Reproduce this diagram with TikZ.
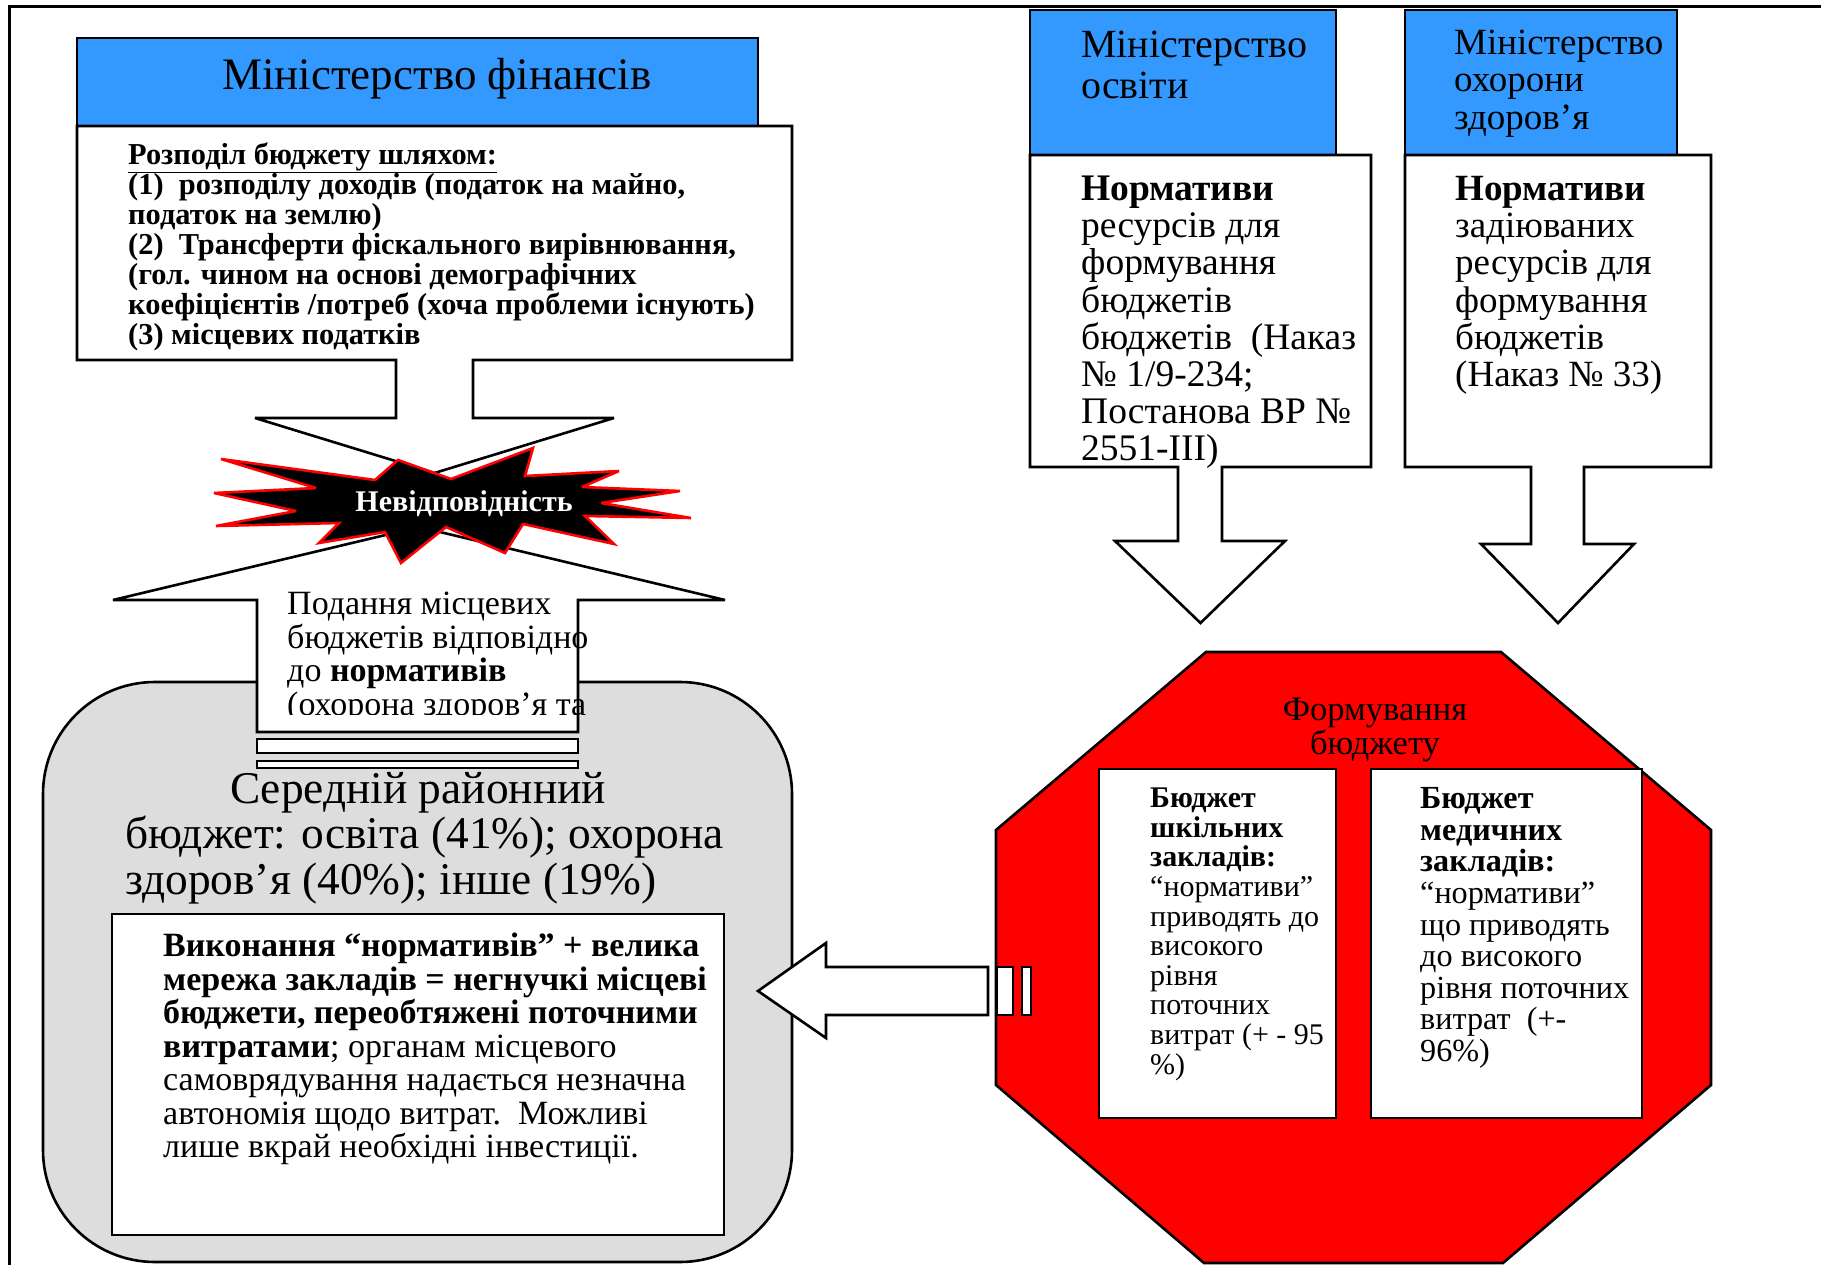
\documentclass[tikz,border=0pt]{standalone}
\usepackage{fontspec}
\setmainfont{Liberation Serif}
\newcommand{\myfs}[2]{\fontsize{#1}{#2}\selectfont}
\definecolor{minblue}{HTML}{3399FF}
\definecolor{budgray}{HTML}{DDDDDD}
\tikzset{
  box/.style={draw=black, line width=2.6pt, line join=miter, miter limit=4},
  bar/.style={draw=black, line width=2pt, fill=white},
  txt/.style={inner sep=0pt, anchor=base west, align=left},
  ctxt/.style={inner sep=0pt, anchor=base, align=center},
}
% note: for multi-line nodes the base anchor is the baseline of the LAST line
\begin{document}
\begin{tikzpicture}[x=1pt,y=-1pt]
\useasboundingbox (0,0) rectangle (1821,1265);
\clip (0,0) rectangle (1821,1265);
\fill[white] (0,0) rectangle (1821,1265);
% frame
\draw[line width=3pt] (1830,7) -- (9,7) -- (9,1275);

% local budget (gray)
\draw[box, fill=budgray, rounded corners=112pt] (43,682) rectangle (792,1262);
\node[ctxt, font=\myfs{45.4}{45.5}] (avgtitle) at (418,803) {Середній районний};
\node[txt, font=\myfs{45.4}{45.5}] (avgbody) at (125,894) {бюджет: освіта (41\%); охорона\\здоров’я (40\%); інше (19\%)};
\draw[box, fill=white] (112,914) rectangle (724,1235);
\node[txt, font=\myfs{34}{33.5}] (exectxt) at (163,1157.5) {\textbf{Виконання “нормативів” + велика}\\\textbf{мережа закладів = негнучкі місцеві}\\\textbf{бюджети, переобтяжені поточними}\\\textbf{витратами}; органам місцевого\\самоврядування надається незначна\\автономія щодо витрат.\ \ Можливі\\лише вкрай необхідні інвестиції.};

% up arrow
\draw[box, fill=white] (257,732) -- (257,600) -- (113,600) -- (419,527) -- (725,600) -- (578,600) -- (578,732) -- cycle;
\draw[bar] (257,739) rectangle (578,753);
\draw[bar] (257,761) rectangle (578,768);
\begin{scope}
  \clip (250,560) rectangle (700,714);
  \node[txt, font=\myfs{34}{33.7}] (submit) at (287,715.6) {Подання місцевих\\бюджетів відповідно\\до \textbf{нормативів}\\(охорона здоров’я та};
\end{scope}

% Ministry of finance
\draw[box, fill=minblue] (77,38) rectangle (758,126);
\node[txt, font=\myfs{45}{50}] (fintitle) at (222,90) {Міністерство фінансів};
\draw[box, fill=white] (77,126) -- (792,126) -- (792,360) -- (473,360) -- (473,418) -- (614,418) -- (434.5,473) -- (255,418) -- (396,418) -- (396,360) -- (77,360) -- cycle;
\node[txt, font=\bfseries\myfs{30.4}{30}] (finbody) at (128,344.5) {\underline{Розподіл бюджету шляхом:}\\(1)\ \ розподілу доходів (податок на майно,\\податок на землю)\\(2)\ \ Трансферти фіскального вирівнювання,\\(гол. чином на основі демографічних\\коефіцієнтів /потреб (хоча проблеми існують)\\(3) місцевих податків};

% explosion
\draw[draw=red, fill=black, line width=2.6pt, line join=miter, miter limit=4]
  (221,459) -- (375,480) -- (398,460) -- (451,479) -- (533,448) -- (525,476) -- (619,471) -- (582,487) -- (680,491) -- (601,503) -- (691,518) -- (585,516) -- (614,544) -- (523,524) -- (505,553) -- (446,527) -- (401,563) -- (385,532) -- (319,543) -- (339,523) -- (216,526) -- (296,511) -- (214,493) -- (316,488) -- cycle;
\node[font=\bfseries\myfs{30}{30}, text=white, inner sep=0pt] (mismatch) at (464,504) {Невідповідність};

% Ministry of education
\draw[box, fill=minblue] (1030,10) rectangle (1336,155);
\node[txt, font=\myfs{40}{41}] (edutitle) at (1081,98.5) {Міністерство\\освіти};
\draw[box, fill=white] (1030,155) -- (1371,155) -- (1371,467) -- (1222,467) -- (1222,541) -- (1285,541) -- (1200.5,623) -- (1115,541) -- (1178,541) -- (1178,467) -- (1030,467) -- cycle;
\node[txt, font=\myfs{37.5}{37.2}] (edubody) at (1081,460.8) {\textbf{Нормативи}\\ресурсів для\\формування\\бюджетів\\бюджетів\ \ (Наказ\\№ 1/9-234;\\Постанова ВР №\\2551-ІІІ)};

% Ministry of health
\draw[box, fill=minblue] (1405,10) rectangle (1677,155);
\node[txt, font=\myfs{37}{37.5}] (healthtitle) at (1454,129.5) {Міністерство\\охорони\\здоров’я};
\draw[box, fill=white] (1405,155) -- (1711,155) -- (1711,467) -- (1584,467) -- (1584,544) -- (1634,544) -- (1558,623) -- (1481,544) -- (1531,544) -- (1531,467) -- (1405,467) -- cycle;
\node[txt, font=\myfs{37}{37.2}] (healthbody) at (1455,386.5) {\textbf{Нормативи}\\задіюваних\\ресурсів для\\формування\\бюджетів\\(Наказ № 33)};

% budget formation octagon
\draw[box, fill=red] (1206,652) -- (1501,652) -- (1711,830) -- (1711,1085) -- (1503,1263) -- (1204,1263) -- (996,1085) -- (996,830) -- cycle;
\node[ctxt, font=\myfs{34.5}{34}] (formtxt) at (1375,754.5) {Формування\\бюджету};
\draw[box, fill=white] (1099,769) rectangle (1336,1118);
\node[txt, font=\myfs{30}{29.6}] (schooltxt) at (1150,1074) {\textbf{Бюджет}\\\textbf{шкільних}\\\textbf{закладів:}\\“нормативи”\\приводять до\\високого\\рівня\\поточних\\витрат (+ - 95\\\%)};
\draw[box, fill=white] (1371,769) rectangle (1642,1118);
\node[txt, font=\myfs{32.2}{31.6}] (medtxt) at (1420,1061.5) {\textbf{Бюджет}\\\textbf{медичних}\\\textbf{закладів:}\\“нормативи”\\що приводять\\до високого\\рівня поточних\\витрат\ \ (+-\\96\%)};

% left arrow
\draw[box, fill=white] (988,967) -- (826,967) -- (826,943) -- (758,991) -- (826,1038) -- (826,1015) -- (988,1015) -- cycle;
\draw[bar] (997,967) rectangle (1013,1015);
\draw[bar] (1022,967) rectangle (1031,1015);
\end{tikzpicture}
\end{document}
